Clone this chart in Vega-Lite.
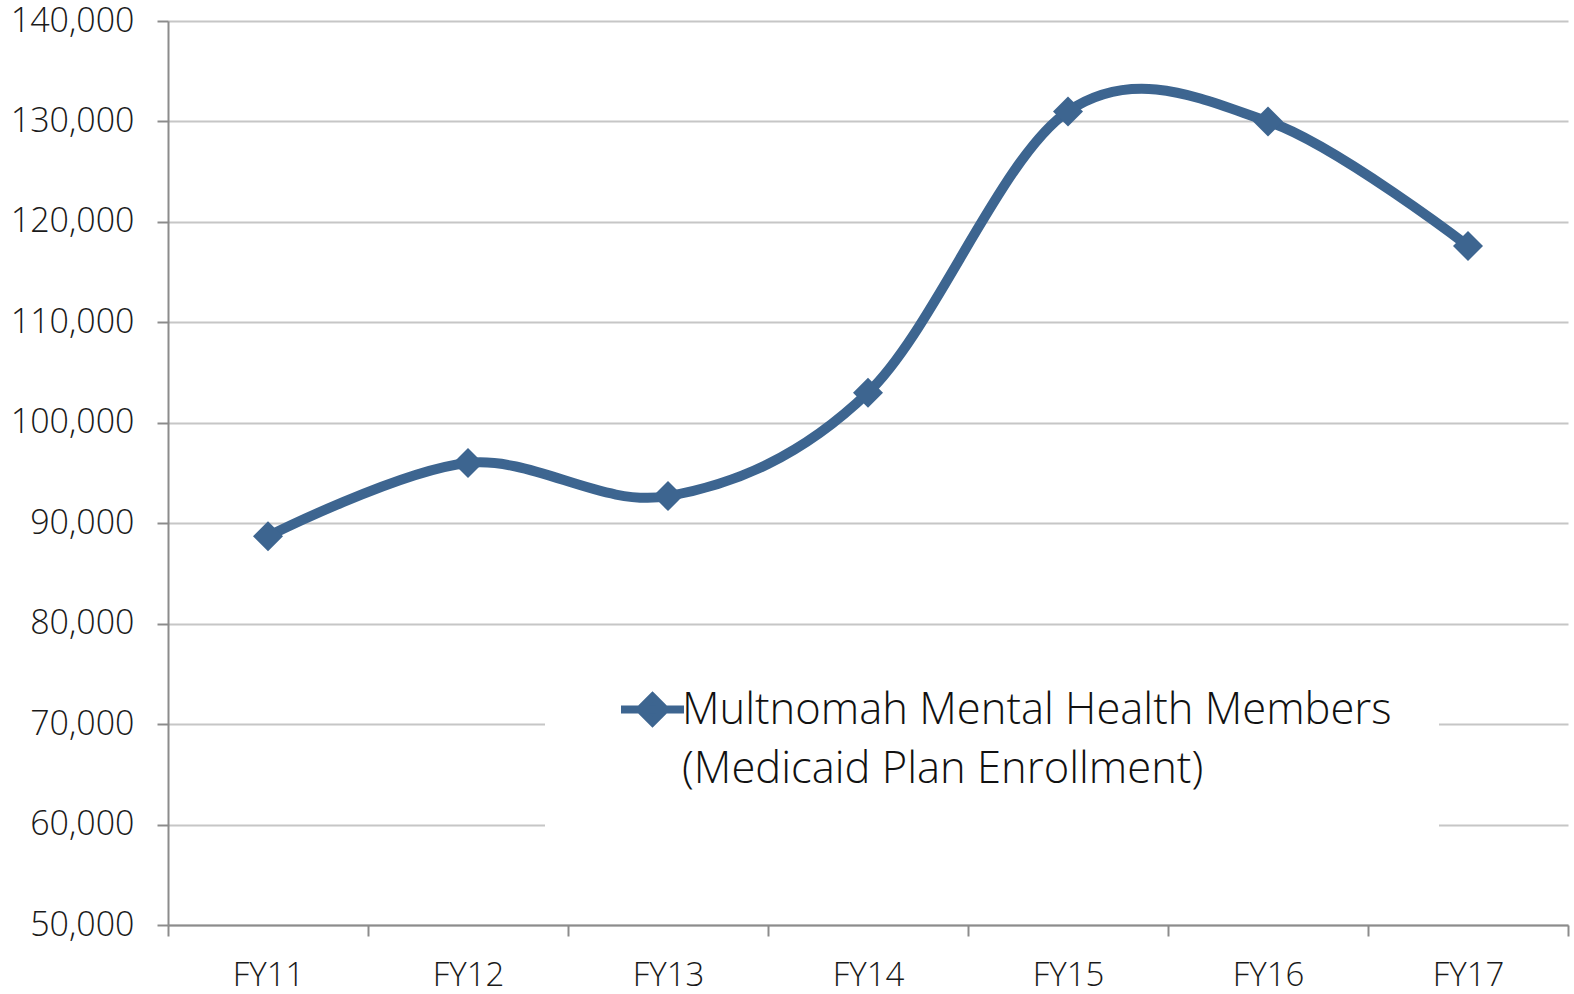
{
  "$schema": "https://vega.github.io/schema/vega-lite/v6.json",
  "width": 1400,
  "height": 904,
  "autosize": {"type": "none"},
  "padding": {"left": 168, "top": 21, "right": 6, "bottom": 69},
  "background": "white",
  "config": {
    "view": {"stroke": null},
    "font": "Open Sans"
  },
  "data": {
    "values": [
      {"year": "FY11", "members": 88700, "series": "Multnomah Mental Health Members"},
      {"year": "FY12", "members": 96000, "series": "Multnomah Mental Health Members"},
      {"year": "FY13", "members": 92700, "series": "Multnomah Mental Health Members"},
      {"year": "FY14", "members": 103000, "series": "Multnomah Mental Health Members"},
      {"year": "FY15", "members": 131000, "series": "Multnomah Mental Health Members"},
      {"year": "FY16", "members": 130000, "series": "Multnomah Mental Health Members"},
      {"year": "FY17", "members": 117600, "series": "Multnomah Mental Health Members"}
    ]
  },
  "encoding": {
    "x": {
      "field": "year",
      "type": "ordinal",
      "scale": {"type": "band", "paddingInner": 0, "paddingOuter": 0},
      "axis": {
        "title": null,
        "labelAngle": 0,
        "labelFont": "Open Sans",
        "labelFontSize": 33,
        "labelFontWeight": 300,
        "labelColor": "#1a1a1a",
        "labelPadding": 23,
        "domainColor": "#8c8c8c",
        "domainWidth": 2,
        "tickColor": "#8c8c8c",
        "tickWidth": 2,
        "tickSize": 11,
        "tickBand": "extent",
        "grid": false
      }
    },
    "y": {
      "field": "members",
      "type": "quantitative",
      "scale": {"domain": [50000, 140000], "nice": false, "zero": false},
      "axis": {
        "title": null,
        "values": [50000, 60000, 70000, 80000, 90000, 100000, 110000, 120000, 130000, 140000],
        "format": ",.0f",
        "labelFont": "Open Sans",
        "labelFontSize": 34,
        "labelFontWeight": 300,
        "labelColor": "#1a1a1a",
        "labelPadding": 23,
        "domainColor": "#8c8c8c",
        "domainWidth": 2,
        "tickColor": "#8c8c8c",
        "tickWidth": 2,
        "tickSize": 11,
        "grid": true,
        "gridColor": "#c6c6c6",
        "gridWidth": 2
      }
    },
    "color": {
      "field": "series",
      "type": "nominal",
      "scale": {"range": ["#3d6590"]},
      "legend": {
        "title": null,
        "orient": "none",
        "legendX": 377,
        "legendY": 606,
        "fillColor": "white",
        "padding": 47,
        "symbolOffset": 25,
        "symbolType": "M-1,0H1M0,-0.4L0.4,0L0,0.4L-0.4,0Z",
        "symbolSize": 3969,
        "symbolStrokeWidth": 8,
        "symbolFillColor": "#3d6590",
        "symbolStrokeColor": "#3d6590",
        "labelExpr": "['Multnomah Mental Health Members', '(Medicaid Plan Enrollment)']",
        "labelFont": "Open Sans",
        "labelFontSize": 43.5,
        "labelFontWeight": 300,
        "labelColor": "#111111",
        "labelLimit": 1000,
        "labelOffset": -6,
        "labelBaseline": "middle",
        "encode": {
          "labels": {"update": {"lineHeight": {"value": 59}, "dy": {"value": 1}}}
        }
      }
    }
  },
  "layer": [
    {
      "mark": {"type": "line", "interpolate": "cardinal", "strokeWidth": 10, "strokeCap": "round"}
    },
    {
      "mark": {"type": "point", "shape": "diamond", "size": 900, "filled": true, "opacity": 1}
    }
  ]
}
